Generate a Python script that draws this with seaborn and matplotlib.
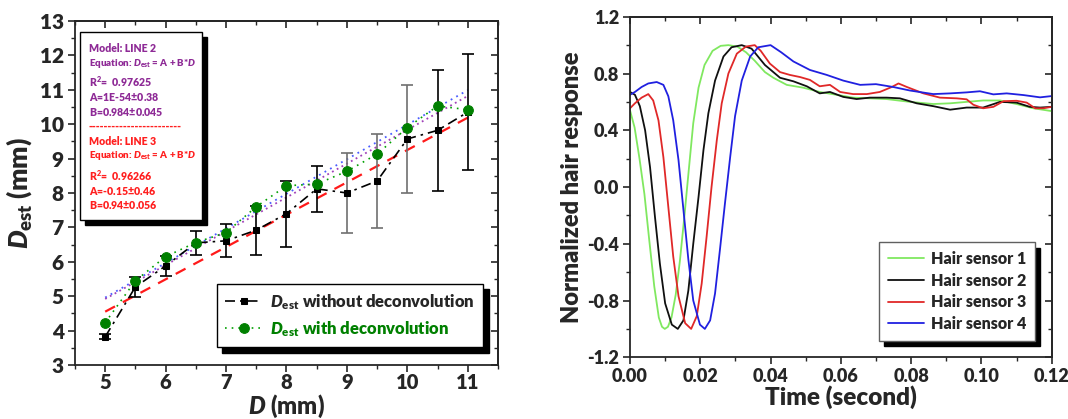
import numpy as np
import pandas as pd
import matplotlib
matplotlib.use("Agg")
import matplotlib.pyplot as plt
import seaborn as sns
from matplotlib.patches import Rectangle
from matplotlib.ticker import MultipleLocator

# ── Style ─────────────────────────────────────────────────────────────────────
sns.set_style("ticks")
plt.rcParams['font.family'] = ['Lato', 'DejaVu Sans']
plt.rcParams['font.weight'] = 800
plt.rcParams['mathtext.fontset'] = 'custom'
plt.rcParams['mathtext.rm'] = 'Lato:weight=800'
plt.rcParams['mathtext.it'] = 'Lato:italic:weight=800'
plt.rcParams['mathtext.bf'] = 'Lato:weight=800'
W = 800

# ── Left panel data ───────────────────────────────────────────────────────────
D        = [5, 5.5, 6, 6.5, 7, 7.5, 8, 8.5, 9, 9.5, 10, 10.5, 11]
dest_wo  = [3.82, 5.27, 5.88, 6.55, 6.61, 6.92, 7.40, 8.12, 8.00, 8.35, 9.57, 9.82, 10.35]
err_wo   = [0.07, 0.30, 0.30, 0.34, 0.48, 0.71, 0.96, 0.66, 1.15, 1.36, 1.56, 1.76, 1.68]
dest_w   = [4.23, 5.45, 6.15, 6.56, 6.85, 7.60, 8.21, 8.26, 8.63, 9.13, 9.90, 10.53, 10.42]
fit_x    = [5, 11]
fit_blue = [4.96, 10.99]
line2_y  = [4.92, 10.82]
line3_y  = [4.55, 10.19]

# ── Right panel data (time in s, normalized response) ─────────────────────────
t1 = [0, 0.0013, 0.0027, 0.0041, 0.0055, 0.0069, 0.0082, 0.0091, 0.0099, 0.0108,
      0.0118, 0.0130, 0.0142, 0.0155, 0.0168, 0.0180, 0.0195, 0.0212, 0.0235, 0.0258,
      0.0280, 0.0305, 0.0330, 0.0355, 0.0384, 0.0408, 0.0446, 0.0493, 0.054, 0.0588,
      0.0635, 0.0683, 0.073, 0.0797, 0.0863, 0.0911, 0.0958, 0.1005, 0.1053, 0.11,
      0.1148, 0.12]
r1 = [0.54, 0.42, 0.20, -0.05, -0.38, -0.70, -0.92, -0.985, -1.0, -0.985,
      -0.92, -0.76, -0.52, -0.20, 0.14, 0.45, 0.70, 0.86, 0.96, 0.995,
      1.0, 0.99, 0.95, 0.89, 0.81, 0.77, 0.72, 0.70, 0.67, 0.65,
      0.63, 0.625, 0.62, 0.60, 0.585, 0.59, 0.60, 0.61, 0.61, 0.585,
      0.555, 0.535]
t2 = [0, 0.0014, 0.0028, 0.0043, 0.0057, 0.0071, 0.0085, 0.0100, 0.0119, 0.0136,
      0.0152, 0.0166, 0.0180, 0.0195, 0.0209, 0.0223, 0.0242, 0.0266, 0.0289, 0.0318,
      0.0346, 0.0384, 0.0427, 0.0465, 0.0503, 0.054, 0.0569, 0.0607, 0.0645, 0.0683,
      0.073, 0.0768, 0.0816, 0.0863, 0.0911, 0.0958, 0.1005, 0.1053, 0.11, 0.1138,
      0.1167, 0.12]
r2 = [0.67, 0.65, 0.57, 0.40, 0.14, -0.21, -0.54, -0.82, -0.97, -1.0,
      -0.94, -0.73, -0.40, -0.07, 0.26, 0.52, 0.75, 0.92, 0.985, 1.0,
      0.975, 0.86, 0.77, 0.745, 0.71, 0.66, 0.67, 0.635, 0.62, 0.63,
      0.63, 0.625, 0.59, 0.57, 0.545, 0.56, 0.56, 0.60, 0.595, 0.565,
      0.56, 0.565]
t3 = [0, 0.0014, 0.0033, 0.0052, 0.0066, 0.0081, 0.0095, 0.0109, 0.0123, 0.0138,
      0.0157, 0.0174, 0.0190, 0.0204, 0.0218, 0.0232, 0.0247, 0.0261, 0.0280, 0.0304,
      0.0330, 0.0355, 0.0372, 0.0398, 0.0427, 0.0455, 0.0484, 0.0512, 0.054, 0.0569,
      0.0598, 0.0635, 0.0674, 0.0711, 0.0745, 0.0764, 0.0788, 0.0835, 0.0882, 0.093,
      0.0958, 0.0977, 0.1005, 0.1034, 0.1063, 0.11, 0.1129, 0.1153, 0.1176, 0.12]
r3 = [0.555, 0.59, 0.63, 0.655, 0.61, 0.47, 0.21, -0.14, -0.49, -0.77,
      -0.96, -1.0, -0.91, -0.68, -0.35, 0.0, 0.33, 0.59, 0.80, 0.94,
      0.99, 1.0, 0.96, 0.87, 0.81, 0.79, 0.775, 0.755, 0.71, 0.72,
      0.67, 0.655, 0.655, 0.67, 0.705, 0.73, 0.705, 0.66, 0.63, 0.625,
      0.618, 0.58, 0.555, 0.565, 0.605, 0.608, 0.595, 0.555, 0.555, 0.565]
t4 = [0, 0.0014, 0.0033, 0.0052, 0.0076, 0.0095, 0.0109, 0.0123, 0.0138, 0.0152,
      0.0166, 0.0180, 0.0199, 0.0213, 0.0228, 0.0242, 0.0256, 0.0270, 0.0285, 0.0299,
      0.0318, 0.0342, 0.0365, 0.0400, 0.0430, 0.0465, 0.0512, 0.056, 0.0607, 0.0655,
      0.070, 0.0749, 0.0797, 0.0863, 0.0911, 0.0958, 0.0996, 0.1034, 0.1072, 0.112,
      0.1167, 0.12]
r4 = [0.65, 0.67, 0.705, 0.73, 0.74, 0.72, 0.64, 0.47, 0.19, -0.16,
      -0.51, -0.80, -0.97, -1.0, -0.94, -0.75, -0.44, -0.12, 0.21, 0.50,
      0.75, 0.92, 0.985, 1.0, 0.95, 0.885, 0.825, 0.79, 0.75, 0.72,
      0.725, 0.705, 0.68, 0.655, 0.66, 0.667, 0.675, 0.653, 0.66, 0.648,
      0.632, 0.641]
sensor_names  = ['Hair sensor 1', 'Hair sensor 2', 'Hair sensor 3', 'Hair sensor 4']
sensor_colors = ['#80e860', '#101010', '#e02828', '#2020e0']

fig = plt.figure(figsize=(10.68, 4.19), dpi=100)
ax1 = fig.add_axes([0.0702, 0.1289, 0.3961, 0.8211])
ax2 = fig.add_axes([0.5899, 0.1473, 0.3948, 0.8127])


def style_axes(ax, xmaj, xmin, ymaj, ymin, lsize):
    ax.xaxis.set_major_locator(MultipleLocator(xmaj))
    ax.xaxis.set_minor_locator(MultipleLocator(xmin))
    ax.yaxis.set_major_locator(MultipleLocator(ymaj))
    ax.yaxis.set_minor_locator(MultipleLocator(ymin))
    for s in ax.spines.values():
        s.set_visible(True)
        s.set_linewidth(1.3)
    ax.tick_params(which='major', direction='out', length=5, width=1.2,
                   labelsize=lsize, pad=3)
    ax.tick_params(which='minor', direction='out', length=3, width=1.0)
    # top / right ticks point inward
    top = ax.secondary_xaxis('top')
    right = ax.secondary_yaxis('right')
    for sec, axis in [(top, top.xaxis), (right, right.yaxis)]:
        axis.set_major_locator(MultipleLocator(xmaj if sec is top else ymaj))
        axis.set_minor_locator(MultipleLocator(xmin if sec is top else ymin))
        sec.tick_params(which='major', direction='in', length=5, width=1.2,
                        labeltop=False, labelright=False)
        sec.tick_params(which='minor', direction='in', length=3, width=1.0)
        for s in sec.spines.values():
            s.set_linewidth(1.3)


# ── Left panel ────────────────────────────────────────────────────────────────
sns.lineplot(x=fit_x, y=fit_blue, ax=ax1, color='#4a5cff', lw=1.3,
             linestyle=(0, (1, 2.5)))
sns.lineplot(x=fit_x, y=line2_y, ax=ax1, color='#a040b8', lw=1.3,
             linestyle=(0, (1, 2)))
sns.lineplot(x=fit_x, y=line3_y, ax=ax1, color='#ff1a1a', lw=1.6,
             linestyle=(0, (5, 4)))
bar_cols = ['black'] * 8 + ['#707070'] * 3 + ['black'] * 2
for xi, yi, ei, ci in zip(D, dest_wo, err_wo, bar_cols):
    ax1.errorbar(xi, yi, yerr=ei, fmt='none', ecolor=ci, elinewidth=1.2,
                 capsize=4, capthick=1.2, zorder=3)
sns.lineplot(x=D, y=dest_wo, ax=ax1, color='black', lw=1.2, marker='s',
             markersize=5, markeredgecolor='black', linestyle=(0, (6, 3, 1.5, 3)),
             label=r'$\mathit{D}_{\mathrm{est}}$ without deconvolution', zorder=4)
sns.lineplot(x=D, y=dest_w, ax=ax1, color='#00a000', lw=1.2, marker='o',
             markersize=7, markerfacecolor='#008000', markeredgecolor='#008000',
             linestyle=(0, (1, 3)),
             label=r'$\mathit{D}_{\mathrm{est}}$ with deconvolution', zorder=5)

ax1.set_xlim(4.5, 11.5)
ax1.set_ylim(3, 13)
style_axes(ax1, 1, 0.5, 1, 0.5, 15)
ax1.tick_params(axis='x', which='major', pad=1, labelsize=14.5)
ax1.set_xlabel(r'$\mathit{D}$ (mm)', fontsize=17, fontweight=W, labelpad=0)
ax1.set_ylabel(r'$\mathit{D}_{\mathrm{est}}$ (mm)', fontsize=19,
               fontweight=W, labelpad=4)

leg1 = ax1.legend(loc='lower right', bbox_to_anchor=(0.965, 0.052),
                  borderaxespad=0, fancybox=False, edgecolor='black',
                  framealpha=1, fontsize=12, handlelength=2.2,
                  labelspacing=0.45, borderpad=0.5, handletextpad=0.5,
                  shadow={'ox': 4, 'oy': -4, 'color': 'black', 'alpha': 1})
leg1.get_frame().set_linewidth(1.0)
leg1.get_texts()[1].set_color('#008000')

# fit-result box with shadow
ax1.add_patch(Rectangle((0.0236, 0.407), 0.288, 0.546, transform=ax1.transAxes,
                        facecolor='black', edgecolor='black', clip_on=False,
                        zorder=6))
ax1.add_patch(Rectangle((0.0118, 0.4215), 0.288, 0.546, transform=ax1.transAxes,
                        facecolor='white', edgecolor='black', lw=1.0,
                        clip_on=False, zorder=7))
purple = '#8e2a96'
red = '#ff1f1f'
eq = r'Equation: $\mathit{D}_{\mathrm{est}}$ = A + B*$\mathit{D}$'
box_lines = [
    ('Model: LINE 2', purple, 0.920, 7.6),
    (eq, purple, 0.877, 7.0),
    (r'R$^{2}$=  0.97625', purple, 0.823, 7.6),
    (r'A=1E-54$\pm$0.38', purple, 0.778, 7.6),
    (r'B=0.984$\pm$0.045', purple, 0.734, 7.6),
    ('-' * 24, red, 0.693, 7.6),
    ('Model: LINE 3', red, 0.649, 7.6),
    (eq, red, 0.609, 7.0),
    (r'R$^{2}$=  0.96266', red, 0.550, 7.6),
    (r'A=-0.15$\pm$0.46', red, 0.506, 7.6),
    (r'B=0.94$\pm$0.056', red, 0.466, 7.6),
]
for txt, col, yy, fs in box_lines:
    ax1.text(0.033, yy, txt, color=col, fontsize=fs, fontweight=W,
             va='center', ha='left', transform=ax1.transAxes, zorder=8)

# ── Right panel ───────────────────────────────────────────────────────────────
frames = []
for name, tt, rr in zip(sensor_names, [t1, t2, t3, t4], [r1, r2, r3, r4]):
    frames.append(pd.DataFrame({'t': tt, 'r': rr, 'sensor': name}))
df = pd.concat(frames, ignore_index=True)
sns.lineplot(data=df, x='t', y='r', hue='sensor', palette=sensor_colors,
             estimator=None, sort=False, lw=1.3, ax=ax2)

ax2.set_xlim(0, 0.12)
ax2.set_ylim(-1.2, 1.2)
style_axes(ax2, 0.02, 0.01, 0.4, 0.2, 13)
ax2.xaxis.set_major_formatter(plt.FormatStrFormatter('%.2f'))
ax2.yaxis.set_major_formatter(plt.FormatStrFormatter('%.1f'))
ax2.set_xlabel('Time (second)', fontsize=17.5, fontweight=W, labelpad=0)
ax2.set_ylabel('Normalized hair response', fontsize=17, fontweight=W,
               labelpad=3)
h, l = ax2.get_legend_handles_labels()
leg2 = ax2.legend(h, l, loc='lower right', bbox_to_anchor=(0.960, 0.049),
                  borderaxespad=0, fancybox=False, edgecolor='#606060',
                  framealpha=1, fontsize=11.5, handlelength=2.3,
                  labelspacing=0.35, borderpad=0.55, handletextpad=0.4,
                  title=None,
                  shadow={'ox': 4, 'oy': -4, 'color': 'black', 'alpha': 1})
leg2.get_frame().set_linewidth(1.0)

fig.savefig('out.png', dpi=100)
